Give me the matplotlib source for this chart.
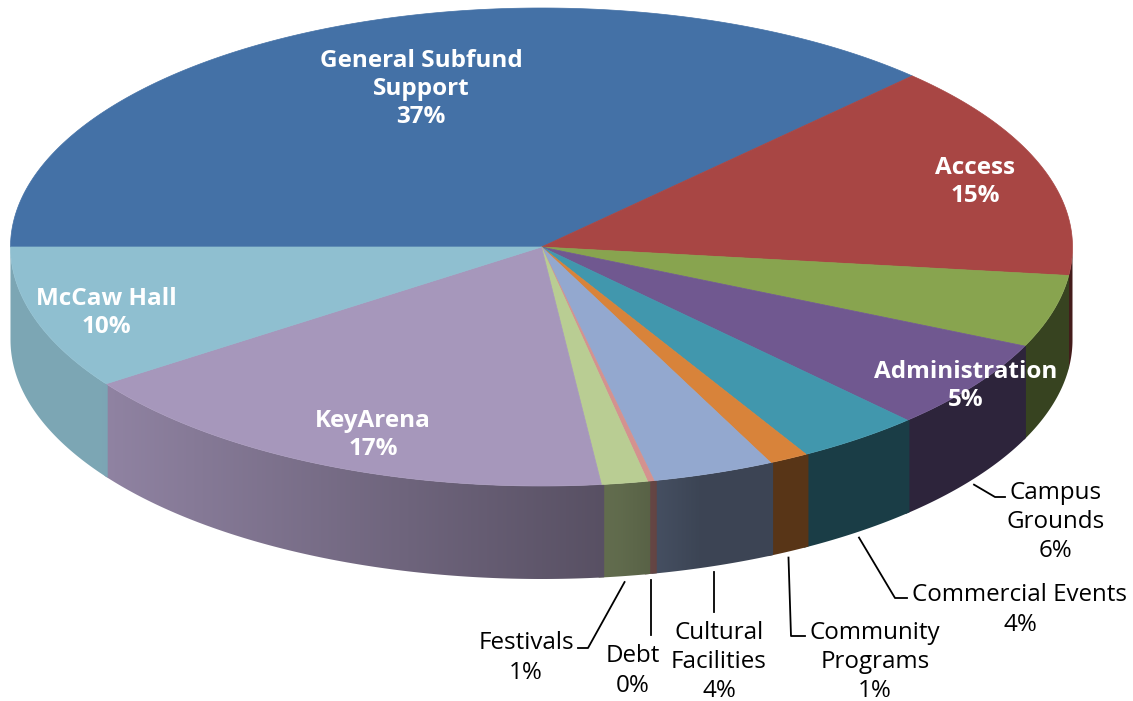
import numpy as np
import matplotlib.pyplot as plt
from matplotlib.patches import Polygon
from matplotlib.colors import to_rgb

# slice data, clockwise from the left horizontal
names = ['General Subfund\nSupport', 'Access', 'Administration', 'Campus\nGrounds',
         'Commercial Events', 'Community\nPrograms', 'Cultural\nFacilities', 'Debt',
         'Festivals', 'KeyArena', 'McCaw Hall']
shares = [37.3, 14.6, 4.9, 6.1, 3.8, 1.2, 3.7, 0.2, 1.4, 17.1, 9.7]
colors = ['#4471a6', '#a84644', '#88a44f', '#705890', '#4197ad', '#d8833a',
          '#93a8cf', '#d4928f', '#b9cd93', '#a697bb', '#8fbfd0']

# pixel layout
cx, cy, rx, ry, depth = 541.5, 247.0, 531.0, 239.0, 93.0

fig = plt.figure(figsize=(11.33, 7.01), dpi=100)
ax = fig.add_axes([0, 0, 1, 1])
ax.set_xlim(0, 1133)
ax.set_ylim(701, 0)
ax.axis('off')


def pt(t, dy=0.0):
    r = np.radians(t)
    return cx + rx * np.cos(r), cy + ry * np.sin(r) + dy


def shade(x):
    return np.interp(x, [100, 620, 700, 1100], [0.87, 0.52, 0.41, 0.41])


total = sum(shares)
bounds = 180 + np.concatenate([[0], np.cumsum(shares)]) / total * 360

# side walls: a horizontal gradient image clipped to each wall
for i, c in enumerate(colors):
    a0, a1 = bounds[i], bounds[i + 1]
    base = np.array(to_rgb(c))
    for lo, hi in [(0, 180), (360, 540)]:
        s, e = max(a0 - 0.3, lo), min(a1 + 0.3, hi)
        if e <= s:
            continue
        ts = np.linspace(s, e, 100)
        xs, ys = pt(ts)
        verts = list(zip(xs, ys)) + list(zip(xs[::-1], ys[::-1] + depth))
        poly = Polygon(verts, closed=True, facecolor='none', edgecolor='none')
        ax.add_patch(poly)
        x0, x1 = xs.min() - 1, xs.max() + 1
        gx = np.linspace(x0, x1, 200)
        img = np.clip(base[None, None, :] * shade(gx)[None, :, None], 0, 1)
        im = ax.imshow(img, extent=(x0, x1, ys.max() + depth + 1, ys.min() - 1),
                       aspect='auto', interpolation='bilinear', zorder=1)
        im.set_clip_path(poly)

# top faces
for i, c in enumerate(colors):
    ts = np.linspace(bounds[i], bounds[i + 1], 200)
    xs, ys = pt(ts)
    verts = [(cx, cy)] + list(zip(xs, ys))
    ax.add_patch(Polygon(verts, closed=True, facecolor=c, edgecolor=c, lw=0.5, zorder=2))

ax.set_xlim(0, 1133)
ax.set_ylim(701, 0)

pcts = ['%d%%' % round(s / total * 100) for s in shares]

# labels inside the pie
inside = {0: (421, 89), 1: (975, 182), 2: (966, 386), 9: (373, 435), 10: (106, 313)}
for i, (x, y) in inside.items():
    ax.text(x, y, names[i] + '\n' + pcts[i], ha='center', va='center', color='white',
            fontsize=17.5, fontweight='bold', family='Open Sans', linespacing=1.24, zorder=5)

# labels outside with leader lines
outside = {
    3: ((1056, 522), [(995, 497), (1005, 497)]),
    4: ((1020, 610), [(895, 598), (907, 598)]),
    5: ((875, 662), [(791, 636), (805, 636)]),
    6: ((719, 662), [(716, 612)]),
    7: ((633, 671), [(655, 635)]),
    8: ((526, 658), [(588, 648), (578, 648)]),
}
for i, ((x, y), path) in outside.items():
    mid = (bounds[i] + bounds[i + 1]) / 2
    sx, sy = pt(mid, depth + 6)
    px = [sx] + [p[0] for p in path]
    py = [sy] + [p[1] for p in path]
    if len(path) == 1:
        px[1] = sx
    ax.plot(px, py, color='black', lw=1.3, zorder=4)
    ax.text(x, y, names[i] + '\n' + pcts[i], ha='center', va='center', color='black',
            fontsize=17.4, family='Open Sans', linespacing=1.28, zorder=5)

fig.savefig('out.png', dpi=100)
